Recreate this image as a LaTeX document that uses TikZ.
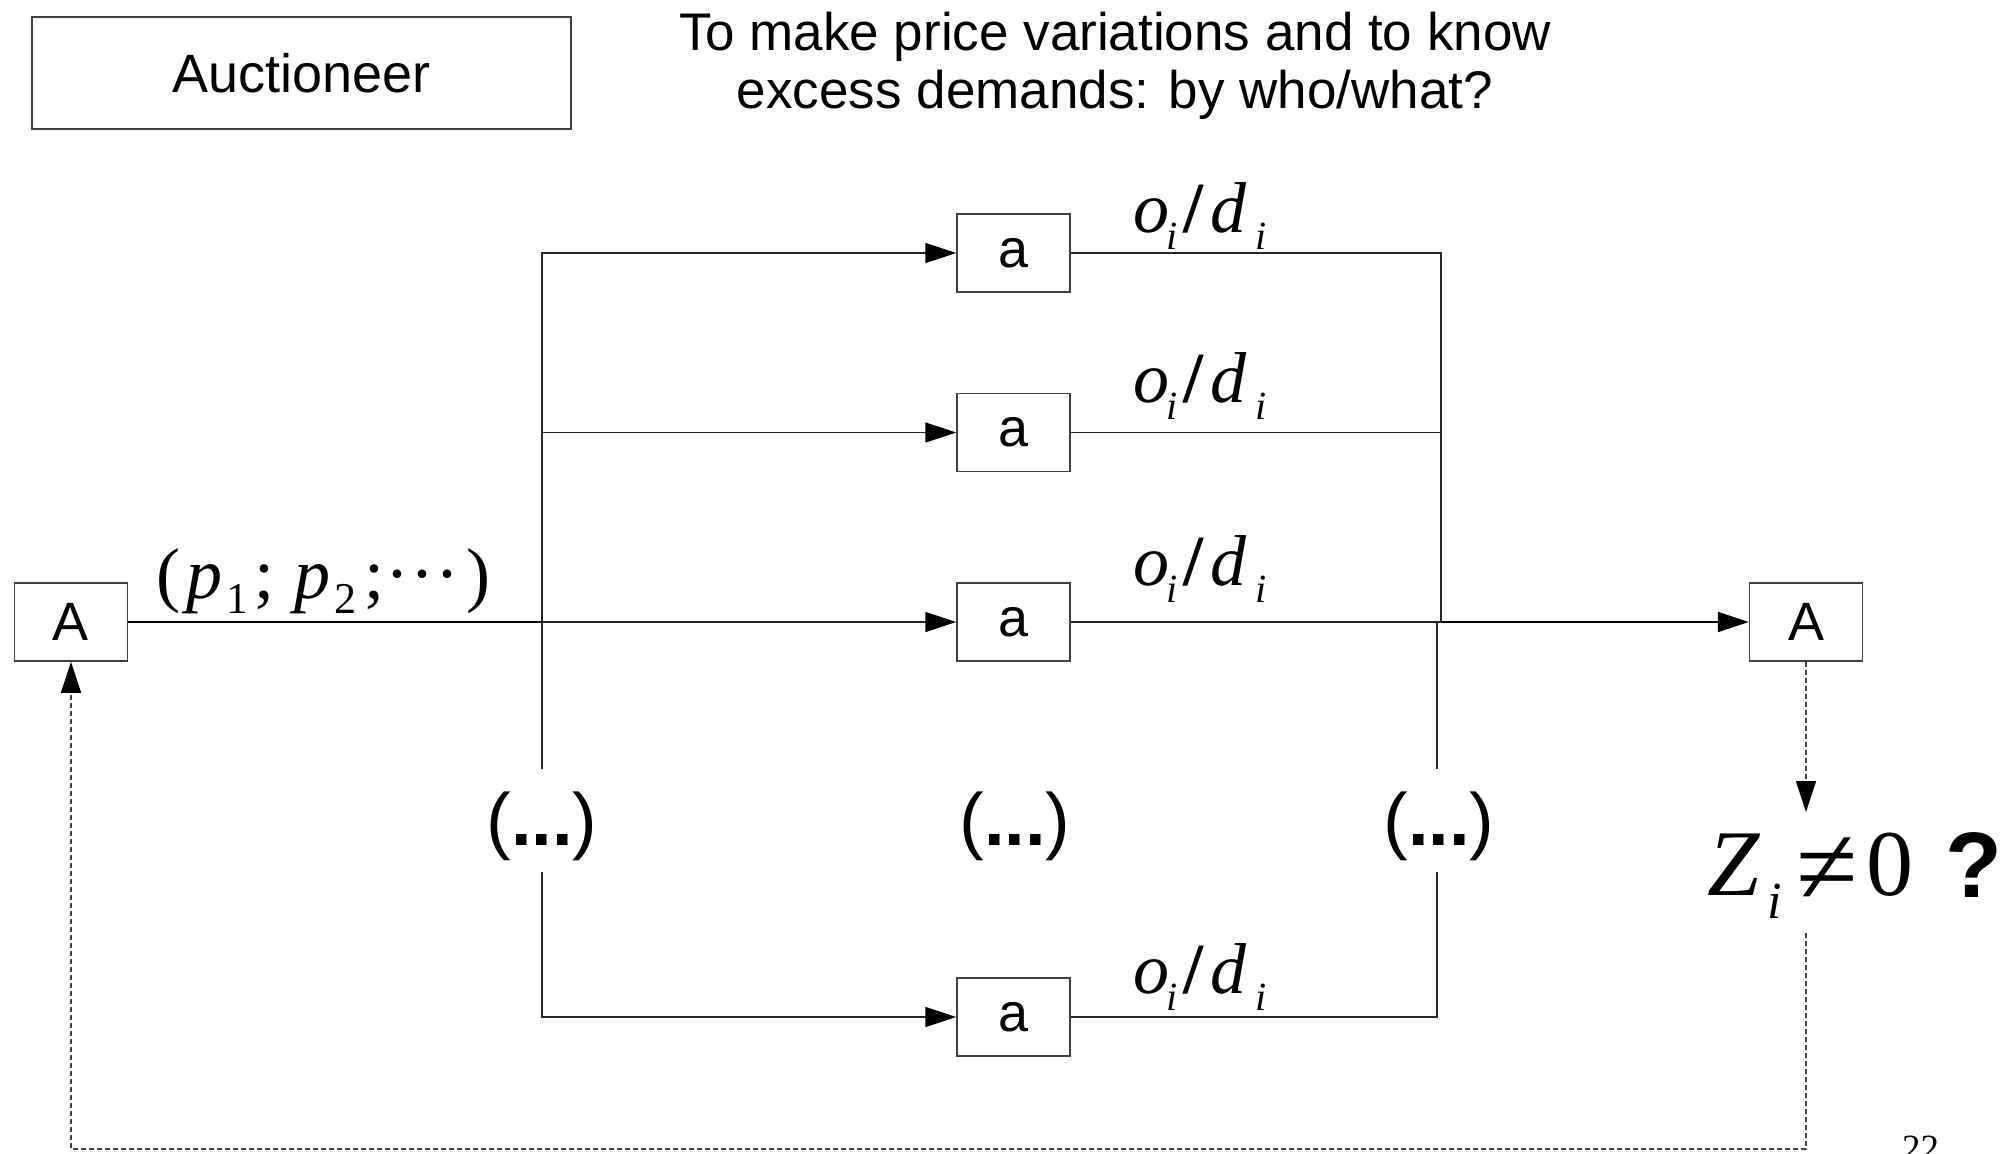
\documentclass[tikz,border=0pt]{standalone}
\usepackage{fontspec}
\setmainfont{Liberation Sans}
\newfontfamily\tms{Liberation Serif}
\usetikzlibrary{arrows.meta}
\newcommand{\fs}[1]{\fontsize{#1}{#1}\selectfont}
\newcommand{\odlabel}{{\tms\fs{72}\itshape o\kern-3pt\raisebox{-17pt}{\fs{40}i}\kern6pt{\upshape\bfseries /}\kern7pt d\kern9pt\raisebox{-17pt}{\fs{40}i}}}
\newcommand{\mdot}{\raisebox{21pt}{.}}
\begin{document}
\begin{tikzpicture}[x=1pt,y=-1pt,
  ln/.style={draw=black!85, line width=1.6pt},
  dsh/.style={draw=black!75, line width=1.3pt, dash pattern=on 5pt off 3pt},
  arr/.style={-{Triangle[length=31pt,width=20pt,color=black]}},
  box/.style={draw=black!75, line width=1.5pt, fill=white, minimum width=113pt, minimum height=78pt, inner sep=0pt, font=\fs{54}},
  lbl/.style={anchor=base west, inner sep=0pt},
  dotsn/.style={anchor=base, inner sep=0pt, font=\fs{74}}]
\useasboundingbox (0,0) rectangle (2009,1153);
\fill[white] (0,0) rectangle (2009,1153);

% title and auctioneer
\node[draw=black!75, line width=1.5pt, minimum width=539pt, minimum height=112pt, inner sep=0pt, font=\fs{54}] (auc) at (301.5,73) {Auctioneer};
\node[anchor=base, inner sep=0pt, font=\fs{53}] (t1) at (1115,51) {To make price variations and to know};
\node[anchor=base, inner sep=0pt, font=\fs{53}] (t2) at (1115,109) {excess demands: by who/what?};

% boxes
\node[box] (A1) at (71,622) {A};
\node[box] (A2) at (1806,622) {A};
\node[box] (a1) at (1013.5,253) {a};
\node[box] (a2) at (1013.5,432.5) {a};
\node[box] (a3) at (1013.5,622) {a};
\node[box] (a4) at (1013.5,1017) {a};

% coordinates
\coordinate (sL) at (542,622);
\coordinate (sLt) at (542,769);
\coordinate (sLb) at (542,872);
\coordinate (jR) at (1441,622);
\coordinate (jR2) at (1437,622);
\coordinate (jRt) at (1437,769);
\coordinate (jRb) at (1437,872);
\coordinate (zt) at (1806,812);
\coordinate (zb) at (1806,933);
\coordinate (fb) at (1806,1149);

% connectors
\draw[ln, line width=2pt, draw=black] (A1) -- (sL);
\draw[ln, arr] (sL) -- (a3);
\draw[ln, arr] (sL) |- (a1);
\draw[ln, arr] (sL |- a2) -- (a2);
\draw[ln] (sL) -- (sLt);
\draw[ln, arr] (sLb) |- (a4);
\draw[ln] (a1) -| (jR);
\draw[ln] (a2) -- (a2 -| jR);
\draw[ln] (a3) -- (jR);
\draw[ln, draw=black, line width=1.8pt, arr] (jR) -- (A2);
\draw[ln] (jR2) -- (jRt);
\draw[ln] (a4) -| (jRb);
\draw[dsh, arr] (A2) -- (zt);
\draw[dsh, arr] (zb) -- (fb) -| (A1);

% labels
\node[lbl] (pl) at (156,598) {\tms\fs{72}(\kern6pt\itshape p\kern4pt\raisebox{-15pt}{\upshape\fs{44}1}\kern6pt\upshape;\kern20pt\itshape p\kern4pt\raisebox{-15pt}{\upshape\fs{44}2}\kern8pt\upshape;\kern4pt\mdot\kern7pt\mdot\kern7pt\mdot\kern10pt)};
\node[lbl] (od1) at (1133,232) {\odlabel};
\node[lbl] (od2) at (1133,402) {\odlabel};
\node[lbl] (od3) at (1133,585) {\odlabel};
\node[lbl] (od4) at (1133,993) {\odlabel};

\node[dotsn] (dL) at (542,845) {(\textbf{...})};
\node[dotsn] (dM) at (1015,845) {(\textbf{...})};
\node[dotsn] (dR) at (1439,845) {(\textbf{...})};

\node[lbl] (zl) at (1707,895) {\tms\fs{94}\itshape Z\kern8pt\raisebox{-23pt}{\fs{52}i}\kern15pt\upshape\raisebox{-9pt}{\fs{112}≠}\kern8pt 0};
\node[lbl] (q) at (1945,897) {\fs{93}\bfseries ?};
\node[lbl] (pg) at (1902,1160) {\tms\fs{37}22};
\end{tikzpicture}
\end{document}
